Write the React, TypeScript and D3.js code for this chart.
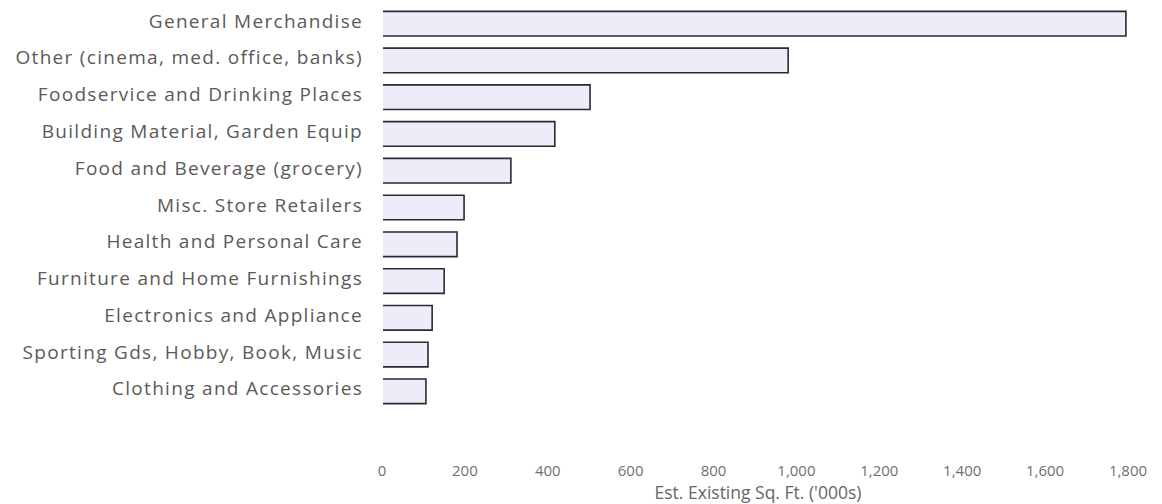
import React from "react";
import * as d3 from "d3";

const categories = [
  "General Merchandise",
  "Other (cinema, med. office, banks)",
  "Foodservice and Drinking Places",
  "Building Material, Garden Equip",
  "Food and Beverage (grocery)",
  "Misc. Store Retailers",
  "Health and Personal Care",
  "Furniture and Home Furnishings",
  "Electronics and Appliance",
  "Sporting Gds, Hobby, Book, Music",
  "Clothing and Accessories",
];
const values = [1795, 980, 502, 417, 311, 198, 181, 150, 121, 111, 106];
const ticks = [0, 200, 400, 600, 800, 1000, 1200, 1400, 1600, 1800];
const axisTitle = "Est. Existing Sq. Ft. ('000s)";

const W = 1162;
const H = 504;
const FONT = "'Open Sans', 'Noto Sans', sans-serif";

export default function App() {
  const x = d3.scaleLinear().domain([0, 1800]).range([382, 1128]);
  const y = d3
    .scaleBand<string>()
    .domain(categories)
    .range([4, 411])
    .paddingInner(0.33)
    .paddingOuter(0.2);
  const fmt = d3.format(",");
  const bh = y.bandwidth();

  return (
    <svg
      width={W}
      height={H}
      style={{ position: "absolute", left: 0, top: 0, background: "#fff" }}
      fontFamily={FONT}
    >
      {categories.map((c, i) => {
        const y0 = y(c)!;
        const x0 = x(0) + 1;
        const x1 = x(values[i]);
        return (
          <g key={c}>
            <rect x={x0} y={y0} width={x1 - x0} height={bh} fill="#ECEDF8" />
            <path
              d={`M${x0},${y0}H${x1}V${y0 + bh}H${x0}`}
              fill="none"
              stroke="#2a2a35"
              strokeWidth={1.6}
            />
            <text
              x={363}
              y={y0 + bh / 2 - 3}
              textAnchor="end"
              dominantBaseline="central"
              fontSize={19}
              letterSpacing={1.3}
              fill="#5a5a5a"
            >
              {c}
            </text>
          </g>
        );
      })}
      {ticks.map((t) => (
        <text
          key={t}
          x={x(t)}
          y={470}
          textAnchor="middle"
          dominantBaseline="central"
          fontSize={15}
          fill="#707070"
        >
          {fmt(t)}
        </text>
      ))}
      <text
        x={758}
        y={492}
        textAnchor="middle"
        dominantBaseline="central"
        fontSize={17.5}
        fill="#666"
      >
        {axisTitle}
      </text>
    </svg>
  );
}
